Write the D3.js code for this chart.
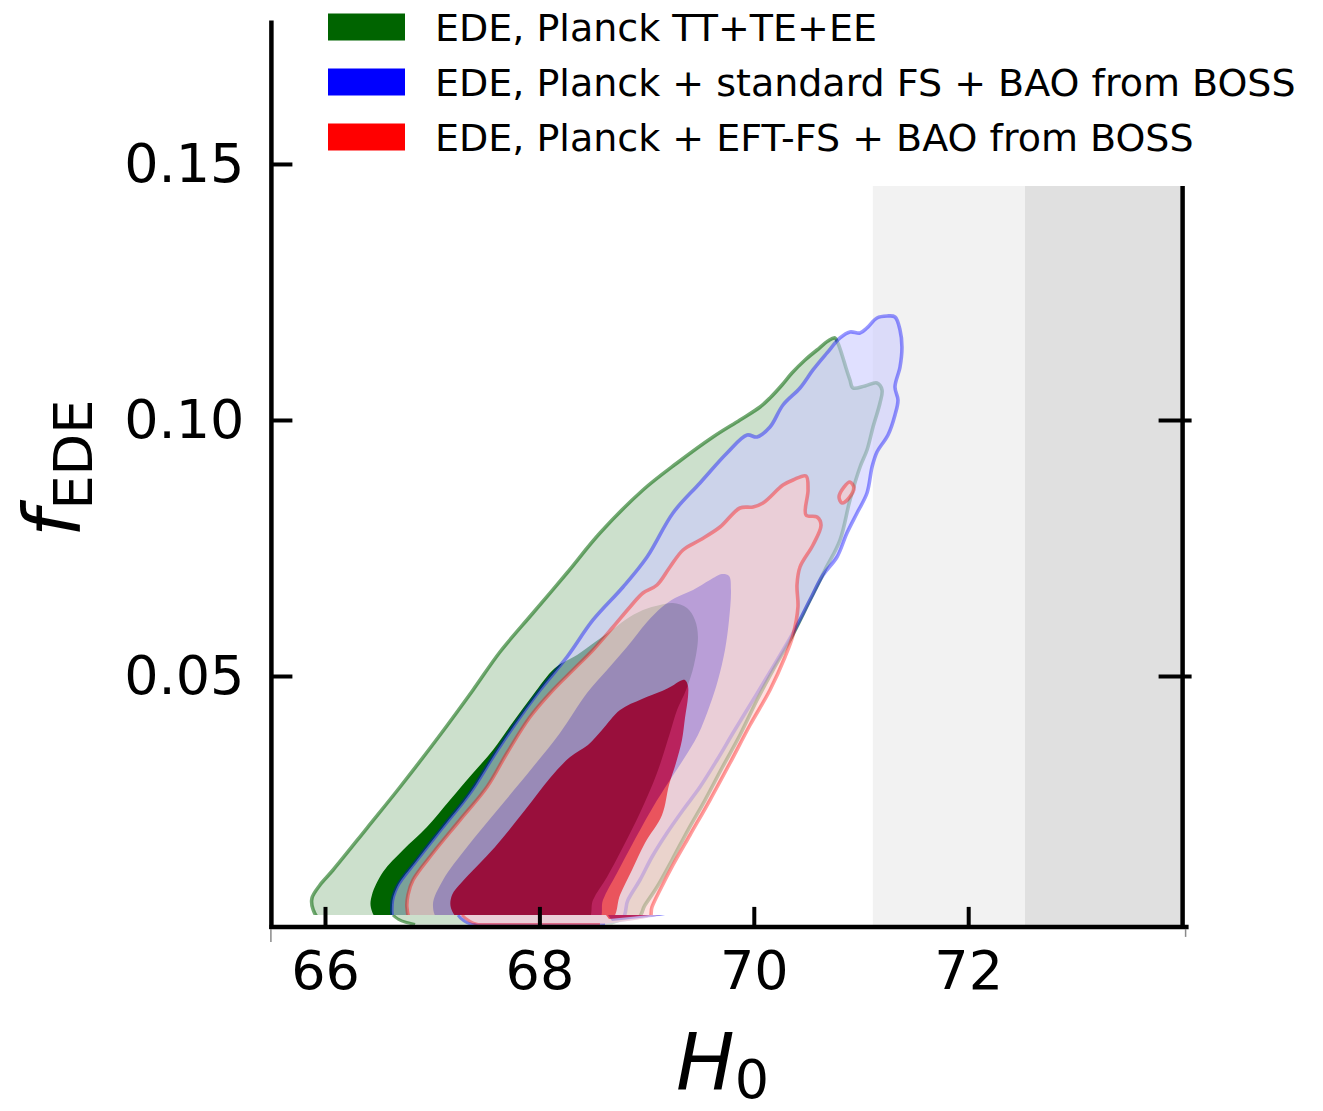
<!DOCTYPE html>
<html>
<head>
<meta charset="utf-8">
<script src="https://cdn.jsdelivr.net/npm/d3@7"></script>
<style>
  html, body { margin: 0; padding: 0; background: #fff; }
  svg { display: block; }
</style>
</head>
<body>
<svg id="chart" width="1323" height="1111"></svg>
<script>
// ---------------- data: H0 [km/s/Mpc] vs f_EDE ----------------
const seriesNames = [
  "EDE, Planck TT+TE+EE",
  "EDE, Planck + standard FS + BAO from BOSS",
  "EDE, Planck + EFT-FS + BAO from BOSS"
];
const xTicks = [66, 68, 70, 72];
const yTicks = [0.05, 0.10, 0.15];
const yTicksRight = [0.05, 0.10];

// local H0 measurement shown as 1σ / 2σ bands
const h0Local = { mean: 73.95, sigma: 1.42 };

// Planck TT+TE+EE: 95% and 68% contours
const planckOuter = [
  [65.972,0.00215],[65.888,0.00449],[65.879,0.00664],[65.953,0.00918],[66.075,0.01211],
  [66.392,0.02031],[66.700,0.02832],[67.073,0.03848],[67.381,0.04727],[67.632,0.05469],
  [67.940,0.06230],[68.257,0.07012],[68.565,0.07793],[68.966,0.08633],[69.284,0.09160],
  [69.619,0.09668],[69.871,0.10000],[70.058,0.10254],[70.151,0.10430],[70.263,0.10684],
  [70.356,0.10918],[70.478,0.11172],[70.590,0.11367],[70.692,0.11543],[70.757,0.11602],
  [70.784,0.11504],[70.823,0.11270],[70.860,0.11016],[70.897,0.10781],[70.925,0.10625],
  [71.037,0.10664],[71.149,0.10723],[71.196,0.10586],[71.177,0.10332],[71.112,0.09863],
  [71.056,0.09414],[70.991,0.09082],[70.897,0.08438],[70.804,0.07656],[70.664,0.07070],
  [70.524,0.06484],[70.338,0.05703],[70.179,0.05117],[70.030,0.04531],[69.871,0.03848],
  [69.703,0.03203],[69.545,0.02578],[69.386,0.01992],[69.237,0.01406],[69.097,0.00879],
  [68.985,0.00527],[68.892,0.00215]
];
const planckInner = [
  [66.513,0.00215],[66.429,0.00469],[66.438,0.00723],[66.541,0.01172],[66.728,0.01602],
  [66.951,0.02051],[67.166,0.02578],[67.381,0.03105],[67.567,0.03555],[67.754,0.04102],
  [67.940,0.04629],[68.146,0.05156],[68.351,0.05410],[68.519,0.05664],[68.677,0.05898],
  [68.799,0.06094],[68.966,0.06289],[69.125,0.06387],[69.246,0.06426],[69.377,0.06328],
  [69.451,0.06094],[69.479,0.05762],[69.442,0.05215],[69.368,0.04727],[69.284,0.04336],
  [69.218,0.03887],[69.097,0.03105],[68.938,0.02324],[68.780,0.01660],[68.631,0.01074],
  [68.500,0.00625],[68.444,0.00215]
];

// Planck + standard FS + BAO: 95% and 68% contours
const fsOuter = [
  [66.662,0.00215],[66.625,0.00527],[66.672,0.00879],[66.858,0.01406],[67.101,0.02051],
  [67.353,0.02715],[67.567,0.03418],[67.754,0.04004],[68.006,0.04727],[68.257,0.05371],
  [68.500,0.06094],[68.780,0.06738],[69.004,0.07324],[69.246,0.08184],[69.498,0.08770],
  [69.750,0.09355],[69.937,0.09707],[70.030,0.09668],[70.151,0.09863],[70.272,0.10293],
  [70.431,0.10625],[70.552,0.10977],[70.683,0.11309],[70.804,0.11602],[70.897,0.11719],
  [70.991,0.11699],[71.056,0.11797],[71.149,0.11992],[71.243,0.12031],[71.317,0.12012],
  [71.364,0.11758],[71.382,0.11426],[71.364,0.11035],[71.317,0.10645],[71.345,0.10391],
  [71.317,0.10098],[71.252,0.09707],[71.149,0.09375],[71.103,0.09082],[71.056,0.08574],
  [70.963,0.08184],[70.869,0.07793],[70.776,0.07324],[70.646,0.06973],[70.524,0.06484],
  [70.366,0.05840],[70.123,0.04980],[69.965,0.04434],[69.806,0.03887],[69.657,0.03359],
  [69.498,0.02832],[69.340,0.02383],[69.190,0.01934],[69.050,0.01465],[68.938,0.01016],
  [68.826,0.00625],[68.752,0.00215]
];
const fsInner = [
  [67.073,0.00215],[67.007,0.00527],[67.101,0.01016],[67.325,0.01660],[67.632,0.02441],
  [67.940,0.03223],[68.192,0.03887],[68.444,0.04668],[68.631,0.05117],[68.817,0.05566],
  [69.004,0.06055],[69.144,0.06348],[69.265,0.06523],[69.433,0.06680],[69.591,0.06875],
  [69.703,0.06992],[69.769,0.06953],[69.787,0.06680],[69.769,0.06094],[69.731,0.05508],
  [69.666,0.04922],[69.591,0.04434],[69.479,0.03848],[69.340,0.03359],[69.200,0.02910],
  [69.060,0.02441],[68.873,0.01738],[68.724,0.01152],[68.593,0.00625],[68.547,0.00215]
];

// Planck + EFT-FS + BAO: 95% and 68% contours, plus a small detached 95% island
const eftOuter = [
  [66.812,0.00215],[66.765,0.00469],[66.774,0.00723],[66.821,0.01016],[67.007,0.01543],
  [67.259,0.02188],[67.511,0.02832],[67.698,0.03496],[67.912,0.04199],[68.127,0.04727],
  [68.313,0.05117],[68.500,0.05508],[68.687,0.05957],[68.845,0.06348],[68.966,0.06621],
  [69.097,0.06777],[69.218,0.07129],[69.340,0.07461],[69.498,0.07656],[69.685,0.07910],
  [69.871,0.08281],[69.993,0.08301],[70.086,0.08379],[70.272,0.08730],[70.366,0.08828],
  [70.487,0.08906],[70.506,0.08633],[70.487,0.08145],[70.590,0.08105],[70.627,0.07949],
  [70.552,0.07559],[70.431,0.07129],[70.403,0.06777],[70.412,0.06348],[70.366,0.05801],
  [70.291,0.05371],[70.151,0.04727],[69.965,0.04043],[69.778,0.03301],[69.591,0.02578],
  [69.405,0.01895],[69.246,0.01309],[69.125,0.00820],[69.050,0.00488],[69.013,0.00215]
];
const eftInner = [
  [67.278,0.00215],[67.175,0.00469],[67.185,0.00723],[67.278,0.00977],[67.586,0.01660],
  [67.866,0.02383],[68.099,0.03008],[68.286,0.03418],[68.453,0.03652],[68.584,0.03945],
  [68.752,0.04336],[68.957,0.04551],[69.144,0.04707],[69.237,0.04805],[69.312,0.04902],
  [69.358,0.04922],[69.386,0.04805],[69.386,0.04590],[69.358,0.04180],[69.330,0.03750],
  [69.274,0.03301],[69.209,0.02871],[69.144,0.02285],[68.985,0.01738],[68.864,0.01211],
  [68.752,0.00723],[68.659,0.00215]
];
const eftIsland = [
  [70.897,0.08789],[70.935,0.08672],[70.888,0.08477],[70.823,0.08379],[70.795,0.08496],[70.841,0.08691]
];

// thin pieces of each contour below the lowest plotted f_EDE
const planckTail = [[66.634,0.00332],[66.681,0.00254],[66.746,0.00195],[66.840,0.00146],[68.677,0.00146],[68.938,0.00332]];
const fsTail     = [[67.241,0.00332],[67.287,0.00234],[67.371,0.00146],[68.612,0.00146],[68.938,0.00254],[69.172,0.00332]];
const eftTail    = [[67.278,0.00332],[67.334,0.00234],[67.427,0.00146],[68.565,0.00146],[68.892,0.00234],[69.125,0.00332]];
const fsInnerTail  = [[68.640,0.00332],[68.677,0.00215],[68.938,0.00273],[69.172,0.00332]];
const eftInnerTail = [[68.621,0.00332],[68.649,0.00254],[68.845,0.00293],[69.032,0.00332]];

// ---------------- styles ----------------
const styles = [
  { light: "rgb(204,224,204)", dark: "rgb(0,100,0)",  line: "rgb(0,100,0)", lineOpacity: 0.55, opacity: 1.0, key: "#006400" },
  { light: "rgb(204,204,255)", dark: "rgb(0,0,255)",  line: "rgb(0,0,255)", lineOpacity: 0.4,  opacity: 0.6, key: "#0000ff" },
  { light: "rgb(255,204,204)", dark: "rgb(255,0,0)",  line: "rgb(255,0,0)", lineOpacity: 0.38, opacity: 0.6, key: "#ff0000" }
];
const series = [
  { outer: planckOuter, inner: planckInner, islands: [],          tail: planckTail, innerTail: null },
  { outer: fsOuter,     inner: fsInner,     islands: [],          tail: fsTail,     innerTail: fsInnerTail },
  { outer: eftOuter,    inner: eftInner,    islands: [eftIsland], tail: eftTail,    innerTail: eftInnerTail }
];

// ---------------- scales ----------------
const x = d3.scaleLinear().domain([65.5, 74.0]).range([271.4, 1182.6]);
const y = d3.scaleLinear().domain([0.001, 0.178]).range([926.9, 20.6]);
const fFloor = 0.00332;     // lowest f_EDE drawn for the main contours
const frameTop = 0.1457;    // top of the right-hand frame and of the H0 bands

const svg = d3.select("#chart");
const font = "DejaVu Sans";

// ---------------- local H0 bands ----------------
const bandG = svg.append("g");
const bandBottom = 925;
[[h0Local.mean - 2 * h0Local.sigma, "#f2f2f2"], [h0Local.mean - h0Local.sigma, "#e0e0e0"]].forEach(([lo, c]) => {
  bandG.append("rect")
    .attr("x", x(lo)).attr("y", y(frameTop))
    .attr("width", x(74.0) - x(lo)).attr("height", bandBottom - y(frameTop))
    .attr("fill", c);
});

// ---------------- contours ----------------
svg.append("clipPath").attr("id", "plotClip")
  .append("rect")
  .attr("x", x(65.5)).attr("y", 0)
  .attr("width", x(74.0) - x(65.5)).attr("height", y(fFloor));

const smooth = d3.line().x(d => x(d[0])).y(d => y(d[1])).curve(d3.curveCatmullRomClosed.alpha(0.5));
const closed = d3.line().x(d => x(d[0])).y(d => y(d[1])).curve(d3.curveLinearClosed);
const open = d3.line().x(d => x(d[0])).y(d => y(d[1])).curve(d3.curveMonotoneY);

series.forEach((s, i) => {
  const st = styles[i];
  // fills: the group opacity lets the 68% region replace the 95% band, as in filled contours
  const g = svg.append("g").attr("opacity", st.opacity);
  const gc = g.append("g").attr("clip-path", "url(#plotClip)");
  gc.append("path").attr("d", smooth(s.outer)).attr("fill", st.light);
  s.islands.forEach(isl => gc.append("path").attr("d", smooth(isl)).attr("fill", st.light));
  gc.append("path").attr("d", smooth(s.inner)).attr("fill", st.dark);
  g.append("path").attr("d", closed(s.tail)).attr("fill", st.light);
  if (s.innerTail) g.append("path").attr("d", closed(s.innerTail)).attr("fill", st.dark);

  // 95% outline
  const lg = svg.append("g").attr("opacity", st.lineOpacity);
  lg.append("path").attr("d", smooth(s.outer))
    .attr("clip-path", "url(#plotClip)")
    .attr("fill", "none").attr("stroke", st.line).attr("stroke-width", 3.6)
    .attr("stroke-linejoin", "round");
  s.islands.forEach(isl => lg.append("path").attr("d", smooth(isl))
    .attr("fill", "none").attr("stroke", st.line).attr("stroke-width", 3.6));
  lg.append("path").attr("d", open(s.tail.slice(0, 4)))
    .attr("fill", "none").attr("stroke", st.line).attr("stroke-width", 3);
});

// ---------------- axes ----------------
const axisColor = "#000";
const gx = svg.append("g")
  .attr("transform", `translate(0,${y(0.001)})`)
  .call(d3.axisBottom(x).tickValues(xTicks).tickSizeInner(-20).tickSizeOuter(0)
    .tickPadding(24).tickFormat(d3.format("d")));
gx.select(".domain").remove();
gx.attr("font-family", font).attr("font-size", 54);
gx.selectAll(".tick line").attr("stroke", axisColor).attr("stroke-width", 4);
gx.selectAll(".tick text").attr("fill", axisColor);

const gy = svg.append("g")
  .attr("transform", `translate(${x(65.5)},0)`)
  .call(d3.axisLeft(y).tickValues(yTicks).tickSizeInner(-21).tickSizeOuter(0)
    .tickPadding(27).tickFormat(d3.format(".2f")));
gy.select(".domain").remove();
gy.attr("font-family", font).attr("font-size", 54);
gy.selectAll(".tick line").attr("stroke", axisColor).attr("stroke-width", 4);
gy.selectAll(".tick text").attr("fill", axisColor);

const gr = svg.append("g")
  .attr("transform", `translate(${x(74.0)},0)`)
  .call(d3.axisRight(y).tickValues(yTicksRight).tickSizeInner(9).tickSizeOuter(0).tickFormat(""));
gr.select(".domain").remove();
gr.selectAll(".tick line").attr("x1", -24).attr("stroke", axisColor).attr("stroke-width", 4);

// spines
const spines = svg.append("g").attr("stroke", axisColor).attr("stroke-width", 4.5);
spines.append("line").attr("x1", x(65.5)).attr("x2", x(65.5)).attr("y1", y(0.178)).attr("y2", y(0.001) + 2);
spines.append("line").attr("x1", x(65.5) - 2).attr("x2", x(74.0) + 6).attr("y1", y(0.001)).attr("y2", y(0.001));
spines.append("line").attr("x1", x(74.0)).attr("x2", x(74.0)).attr("y1", y(frameTop)).attr("y2", y(0.001));
const thin = svg.append("g").attr("stroke", "#8a8a8a").attr("stroke-width", 1.5);
thin.append("line").attr("x1", x(65.5) - 0.5).attr("x2", x(65.5) - 0.5).attr("y1", y(0.001) + 2).attr("y2", y(0.001) + 15);
thin.append("line").attr("x1", x(74.0) + 3).attr("x2", x(74.0) + 3).attr("y1", y(0.001) + 2).attr("y2", y(0.001) + 10);

// ---------------- axis labels ----------------
const xl = svg.append("text").attr("x", 676).attr("y", 1089)
  .attr("font-family", font).attr("font-size", 78).attr("fill", "#000");
xl.append("tspan").attr("font-style", "italic").text("H");
xl.append("tspan").attr("font-size", 54).attr("dy", 9).text("0");

const yl = svg.append("text").attr("transform", "translate(80,537) rotate(-90)")
  .attr("font-family", font).attr("font-size", 78).attr("fill", "#000");
yl.append("tspan").attr("font-style", "italic").text("f");
yl.append("tspan").attr("font-size", 54).attr("dy", 12).text("EDE");

// ---------------- legend ----------------
const leg = svg.append("g");
seriesNames.forEach((name, i) => {
  const cy = 27 + i * 55;
  leg.append("rect").attr("x", 328).attr("y", cy - 13.5).attr("width", 77).attr("height", 27)
    .attr("fill", styles[i].key);
  leg.append("text").attr("x", 435).attr("y", cy + 14)
    .attr("font-family", font).attr("font-size", 38).attr("fill", "#000").text(name);
});
</script>
</body>
</html>
